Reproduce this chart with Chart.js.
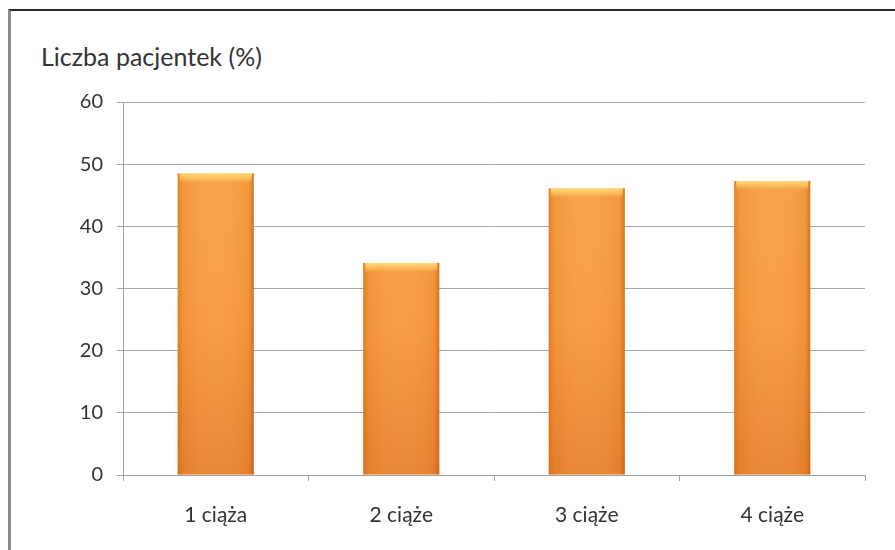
<!DOCTYPE html>
<html>
<head>
<meta charset="utf-8">
<script src="https://cdn.jsdelivr.net/npm/chart.js@4"></script>
<style>
  html, body { margin: 0; padding: 0; background: #fff; }
  #wrap { position: relative; width: 895px; height: 550px; }
  #frame {
    position: absolute; left: 8px; top: 9px; right: 0; bottom: 0;
    border-top: 2px solid #2a2a2a; border-left: 3px solid #8c8c8c;
  }
  #title {
    position: absolute; left: 41px; top: 41px; line-height: 30px;
    font: 25px Lato, "Open Sans", sans-serif; color: #333;
  }
  canvas { position: absolute; left: 0; top: 0; }
</style>
</head>
<body>
<div id="wrap">
  <div id="frame"></div>
  <div id="title">Liczba pacjentek (%)</div>
  <canvas id="chart" width="895" height="550"></canvas>
</div>
<script>
const categories = ["1 ciąża", "2 ciąże", "3 ciąże", "4 ciąże"];
const patientShare = [48.5, 34.1, 46.1, 47.3];
const yTicks = [0, 10, 20, 30, 40, 50, 60];

// Shades the bars: darker sides, lighter bevel along the top edge
const bevelPlugin = {
  id: "bevel",
  afterDatasetsDraw(chart) {
    const ctx = chart.ctx;
    chart.getDatasetMeta(0).data.forEach((bar) => {
      const left = bar.x - bar.width / 2;
      const right = bar.x + bar.width / 2;
      const top = bar.y;
      const bottom = bar.base;
      ctx.save();
      const side = ctx.createLinearGradient(left, 0, right, 0);
      side.addColorStop(0, "rgba(200,95,20,0.5)");
      side.addColorStop(0.07, "rgba(200,95,20,0.12)");
      side.addColorStop(0.5, "rgba(255,255,255,0.04)");
      side.addColorStop(0.93, "rgba(200,95,20,0.12)");
      side.addColorStop(1, "rgba(170,80,20,0.55)");
      ctx.fillStyle = side;
      ctx.fillRect(left, top, right - left, bottom - top);
      const cap = ctx.createLinearGradient(0, top, 0, top + 10);
      cap.addColorStop(0, "rgba(255,225,130,0.9)");
      cap.addColorStop(0.6, "rgba(253,200,100,0.6)");
      cap.addColorStop(1, "rgba(247,155,62,0)");
      ctx.fillStyle = cap;
      ctx.fillRect(left + 2, top, right - left - 4, 10);
      ctx.restore();
    });
  },
};

const ctx = document.getElementById("chart").getContext("2d");
new Chart(ctx, {
  type: "bar",
  data: {
    labels: categories,
    datasets: [
      {
        data: patientShare,
        backgroundColor: function (context) {
          const area = context.chart.chartArea;
          if (!area) return "#F79B3E";
          const g = context.chart.ctx.createLinearGradient(0, area.top, 0, area.bottom);
          g.addColorStop(0, "#F9A445");
          g.addColorStop(0.6, "#F79A3D");
          g.addColorStop(1, "#E8822D");
          return g;
        },
        borderWidth: 0,
        categoryPercentage: 1,
        barPercentage: 0.41,
      },
    ],
  },
  options: {
    responsive: false,
    animation: false,
    layout: { padding: { top: 102, right: 30, left: 0, bottom: 0 } },
    plugins: {
      legend: { display: false },
      tooltip: { enabled: false },
    },
    scales: {
      x: {
        afterFit: (axis) => { axis.height = 75; },
        grid: {
          offset: true,
          drawOnChartArea: false,
          drawTicks: true,
          tickLength: 6,
          color: "#a0a0a0",
        },
        border: { color: "#a0a0a0", width: 1 },
        ticks: {
          color: "#333",
          font: { family: "Lato", size: 21 },
          padding: 22,
        },
      },
      y: {
        min: 0,
        max: 60,
        afterFit: (axis) => { axis.width = 123; },
        afterBuildTicks: (axis) => {
          axis.ticks = yTicks.map((v) => ({ value: v }));
        },
        grid: { color: "#a6a6a6", tickLength: 6 },
        border: { color: "#a0a0a0", width: 1 },
        ticks: {
          color: "#333",
          font: { family: "Lato", size: 20 },
          padding: 14,
        },
      },
    },
  },
  plugins: [bevelPlugin],
});
</script>
</body>
</html>
